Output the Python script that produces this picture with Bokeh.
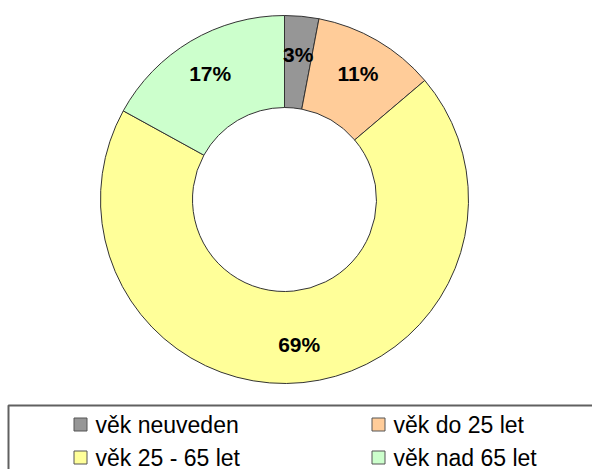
import math
from bokeh.plotting import figure
from bokeh.models import Range1d, ColumnDataSource
from bokeh.core.properties import value
from bokeh.embed import file_html
from bokeh.resources import INLINE

# ---- data ----
categories = ["věk neuveden", "věk do 25 let", "věk 25 - 65 let", "věk nad 65 let"]
shares = [3.0, 10.8, 69.2, 17.0]
pct_labels = ["3%", "11%", "69%", "17%"]
colors = ["#969696", "#FFCC99", "#FFFF99", "#CCFFCC"]

# ---- layout (picture pixel coordinates, y measured upward from bottom 469) ----
W, H = 592, 469
cx, cy = 284, H - 199
r_out, r_in, r_lab = 184, 92, 146

total = sum(shares)
starts, ends, lx, ly = [], [], [], []
cum = 0.0
for v in shares:
    a0 = math.pi / 2 - 2 * math.pi * cum / total
    cum += v
    a1 = math.pi / 2 - 2 * math.pi * cum / total
    starts.append(a0)
    ends.append(a1)
    am = (a0 + a1) / 2
    lx.append(cx + r_lab * math.cos(am))
    ly.append(cy + r_lab * math.sin(am))

src = ColumnDataSource(dict(start=starts, end=ends, color=colors, lx=lx, ly=ly, lab=pct_labels))

p = figure(width=W, height=H, output_backend="svg", toolbar_location=None,
           x_range=Range1d(0, W), y_range=Range1d(0, H),
           x_axis_location=None, y_axis_location=None, min_border=0,
           outline_line_color=None, background_fill_color="white")
p.grid.visible = False

p.annular_wedge(x=cx, y=cy, inner_radius=r_in, outer_radius=r_out,
                inner_radius_units="screen", outer_radius_units="screen",
                start_angle="start", end_angle="end", direction="clock",
                fill_color="color", line_color="#333333", line_width=1, source=src)

p.text(x="lx", y="ly", text="lab", source=src, text_font=value("Liberation Sans"),
       text_font_style="bold", text_font_size="21px", text_align="center",
       text_baseline="middle", text_color="black")

# ---- legend ----
p.quad(left=[8], right=[640], top=[H - 405], bottom=[-40], fill_color=None,
       line_color="#606060", line_width=2)

col_x = [80, 378]
row_y = [H - 424, H - 457]
sq_x = [col_x[i % 2] for i in range(len(categories))]
sq_y = [row_y[i // 2] for i in range(len(categories))]
tx = [x + 15 for x in sq_x]
lsrc = ColumnDataSource(dict(x=sq_x, y=sq_y, tx=tx, c=colors, t=categories))
p.rect(x="x", y="y", width=13, height=13, width_units="screen", height_units="screen",
       fill_color="c", line_color="#555555", line_width=1, source=lsrc)
p.text(x="tx", y="y", text="t", source=lsrc, text_font=value("Liberation Sans"),
       text_font_size="23px", text_baseline="middle", text_align="left",
       text_color="black")

open("out.html", "w").write(file_html(p, INLINE))
